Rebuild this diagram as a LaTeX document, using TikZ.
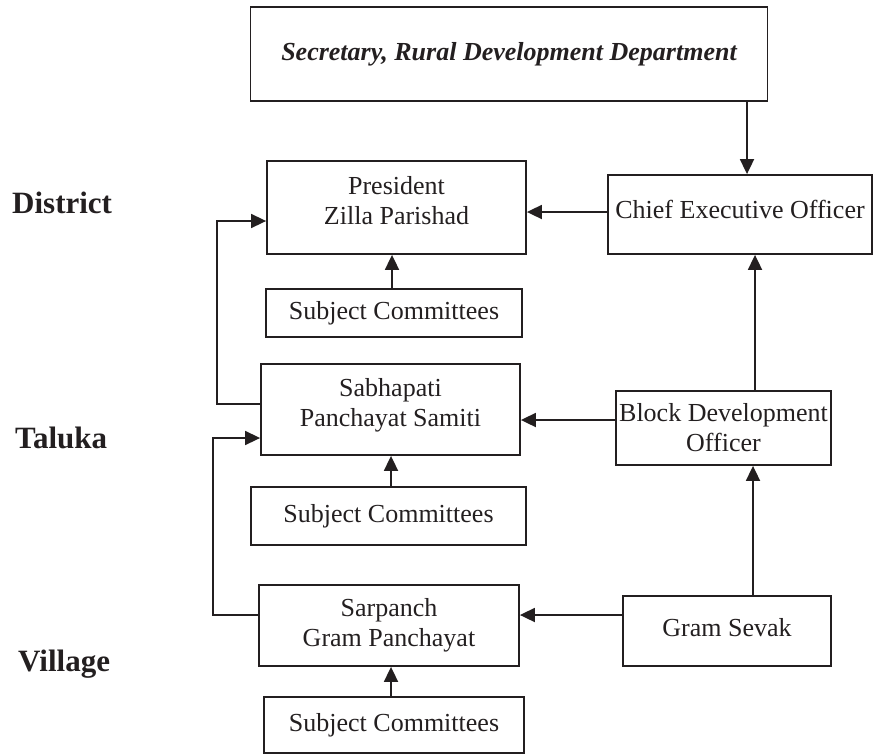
\documentclass[tikz,border=0pt]{standalone}
\usepackage{fontspec}
\setmainfont{Liberation Serif}
\usetikzlibrary{arrows.meta}
\definecolor{ink}{HTML}{231F20}
% text block with extra depth, so that it sits a little above the box centre
\newcommand{\lifted}[2]{\raisebox{0pt}[\height][\dimexpr\depth+#1\relax]{\begin{tabular}{@{}c@{}}#2\end{tabular}}}
\begin{document}
\begin{tikzpicture}[x=1pt,y=-1pt,
  box/.style={draw=ink, line width=1.8pt, inner sep=0pt, align=center,
    text=ink, font=\fontsize{26}{30}\selectfont},
  lvl/.style={anchor=base west, text=ink, inner sep=0pt,
    font=\fontsize{31}{36}\selectfont\bfseries},
  link/.style={draw=ink, line width=1.8pt, -{Triangle[length=15pt,width=14pt]}},
  loopline/.style={draw=ink, line width=1.6pt, -{Triangle[length=15pt,width=14pt]}},
]
\useasboundingbox (0,0) rectangle (874,755);

% level labels
\node[lvl] (district) at (12,213) {District};
\node[lvl] (taluka)   at (15,448) {Taluka};
\node[lvl] (village)  at (18,671) {Village};

% boxes
\node[box, minimum width=517pt, minimum height=94pt, font=\fontsize{26}{30}\selectfont\bfseries\itshape]
  (sec) at (509,54) {Secretary, Rural Development Department};
\node[box, minimum width=259pt, minimum height=93pt] (pzp) at (396.5,207.5) {\lifted{9pt}{President\\Zilla Parishad}};
\node[box, minimum width=264pt, minimum height=79pt] (ceo) at (740,214.5) {\lifted{4pt}{Chief Executive Officer}};
\node[box, minimum width=256pt, minimum height=48pt] (sc1) at (394,313) {Subject Committees};
\node[box, minimum width=259pt, minimum height=91pt] (sps) at (390.5,409.5) {\lifted{8pt}{Sabhapati\\Panchayat Samiti}};
\node[box, minimum width=215pt, minimum height=74pt] (bdo) at (723.5,428) {Block Development\\Officer};
\node[box, minimum width=275pt, minimum height=58pt] (sc2) at (388.5,516) {Subject Committees};
\node[box, minimum width=260pt, minimum height=81pt] (sgp) at (389,625.5) {Sarpanch\\Gram Panchayat};
\node[box, minimum width=208pt, minimum height=70pt] (gs) at (727,631) {\lifted{2pt}{Gram Sevak}};
\node[box, minimum width=260pt, minimum height=56pt] (sc3) at (394,725) {Subject Committees};

% connector lanes
\coordinate (c1) at (747,0);
\coordinate (c2) at (392,0);
\coordinate (c3) at (755,0);
\coordinate (c4) at (391,0);
\coordinate (c5) at (753,0);
\coordinate (r1) at (0,212);
\coordinate (r2) at (0,420);
\coordinate (r3) at (0,615);
\coordinate (r4) at (0,404);
\coordinate (r5) at (0,615);
\coordinate (l1) at (217,221);
\coordinate (l2) at (213,438);

% vertical links
\draw[link] (sec.south -| c1) -- (ceo.north -| c1);
\draw[link] (sc1.north -| c2) -- (pzp.south -| c2);
\draw[link] (bdo.north -| c3) -- (ceo.south -| c3);
\draw[link] (sc2.north -| c4) -- (sps.south -| c4);
\draw[link] (gs.north -| c5) -- (bdo.south -| c5);
\draw[link] (sc3.north -| c4) -- (sgp.south -| c4);

% horizontal links
\draw[link] (ceo.west |- r1) -- (pzp.east |- r1);
\draw[link] (bdo.west |- r2) -- (sps.east |- r2);
\draw[link] (gs.west |- r3) -- (sgp.east |- r3);

% side loops
\draw[loopline] (sps.west |- r4) -- (r4 -| l1) -- (l1) -- (pzp.west |- l1);
\draw[loopline] (sgp.west |- r5) -- (r5 -| l2) -- (l2) -- (sps.west |- l2);
\end{tikzpicture}
\end{document}
